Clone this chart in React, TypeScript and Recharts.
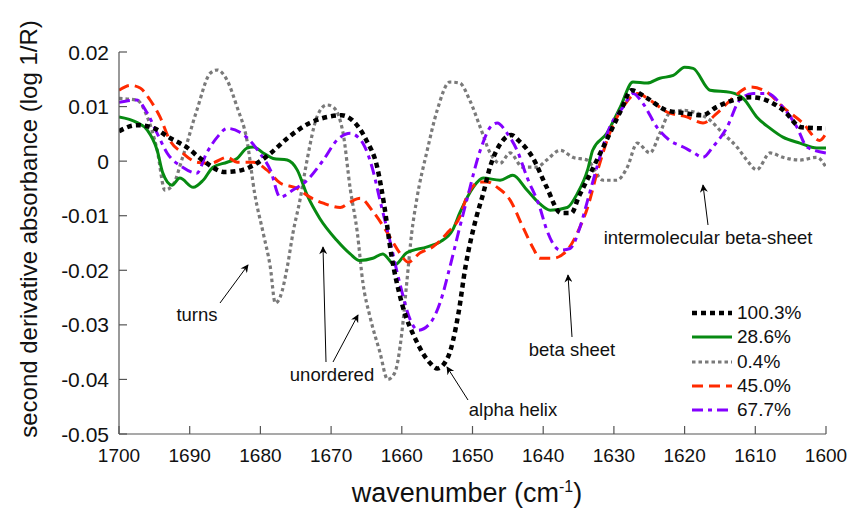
import React from 'react';
import { LineChart, Line, XAxis, YAxis, Legend } from 'recharts';

// wavenumber (cm-1) / second derivative absorbance pairs
const s1003 = [
  [1700, 0.0055], [1697.5, 0.0066], [1695, 0.006], [1693, 0.0044], [1690.5, 0.0026], [1688, 0],
  [1685, -0.002], [1682.5, -0.0016], [1680.5, -0.0004], [1678.5, 0.0015], [1676, 0.0044], [1673, 0.007],
  [1670.5, 0.0081], [1668.5, 0.0084], [1667, 0.0075], [1665, 0.0038], [1663.5, -0.001], [1662.5, -0.008],
  [1661.5, -0.017], [1660, -0.026], [1658, -0.0328], [1656, -0.037], [1655, -0.038], [1653.5, -0.036],
  [1652, -0.028], [1651, -0.0194], [1649.5, -0.0105], [1648.5, -0.006], [1647.5, -0.001], [1646, 0.0033],
  [1644.5, 0.0048], [1643.5, 0.0038], [1641.5, 0.0007], [1639.5, -0.0048], [1637.5, -0.0095], [1636, -0.0095],
  [1635, -0.0066], [1634, -0.004], [1631.5, 0.0026], [1629, 0.0093], [1627.5, 0.013], [1625.5, 0.0117],
  [1622.5, 0.0093], [1620, 0.0088], [1617.5, 0.0084], [1615.5, 0.0099], [1613, 0.0112], [1610.5, 0.0117],
  [1608.5, 0.0112], [1606, 0.0093], [1603.5, 0.0062], [1600, 0.006],
];

const s286 = [
  [1700, 0.0081], [1697.5, 0.0071], [1696, 0.0057], [1694.6, 0.002], [1693.8, -0.0022], [1692.5, -0.0044],
  [1691.4, -0.0031], [1689.5, -0.0048], [1688.1, -0.0035], [1686.7, -0.0011], [1684.7, -0.0002], [1683.3, 0.0005],
  [1681.9, 0.0024], [1681, 0.0026], [1679.6, 0.0015], [1678.2, 0.0005], [1676.2, 0.0002], [1674.8, -0.0016],
  [1673.4, -0.0062], [1671.6, -0.0105], [1669.2, -0.0145], [1667.3, -0.017], [1666, -0.0182], [1664.1, -0.0178],
  [1662.7, -0.017], [1661, -0.019], [1659.3, -0.0168], [1656.4, -0.0157], [1654.6, -0.0148], [1652.8, -0.0126],
  [1651.8, -0.0095], [1649.9, -0.0048], [1648.5, -0.0031], [1646.1, -0.0035], [1644.3, -0.0026], [1642.3, -0.0053],
  [1640.5, -0.0078], [1639, -0.009], [1636.6, -0.0085], [1635.2, -0.006], [1633.7, -0.0015], [1633, 0.002],
  [1631, 0.0051], [1629.1, 0.0099], [1627.3, 0.0145], [1625.3, 0.0143], [1623.5, 0.0152], [1621.6, 0.0157],
  [1620, 0.0172], [1618.8, 0.017], [1616.4, 0.013], [1613.5, 0.0126], [1611.7, 0.0115], [1609.8, 0.0081],
  [1607.9, 0.006], [1606.1, 0.0044], [1603.7, 0.0033], [1601.3, 0.0024], [1600, 0.0024],
];

const s04 = [
  [1700, 0.0115], [1697.5, 0.0112], [1696, 0.0081], [1694.6, 0.002], [1693.5, -0.0053], [1692.4, -0.0044],
  [1691, 0.0007], [1689, 0.0093], [1687.1, 0.0161], [1686.1, 0.0167], [1684.7, 0.0148], [1683.3, 0.0099],
  [1681.9, 0.0038], [1680.8, -0.006], [1679.6, -0.0132], [1678.6, -0.0194], [1677.9, -0.026], [1677.2, -0.0249],
  [1676.2, -0.0194], [1675.4, -0.0132], [1674.4, -0.0071], [1673.4, 0.0002], [1672, 0.0081], [1670.6, 0.0103],
  [1669.7, 0.0099], [1668.3, 0.0051], [1667.3, -0.005], [1666.3, -0.013], [1665.5, -0.0223], [1664.5, -0.0285],
  [1663.1, -0.035], [1662, -0.04], [1661, -0.0388], [1660, -0.0315], [1659.3, -0.0223], [1658.6, -0.0132],
  [1657.9, -0.0071], [1656.4, 0.002], [1655, 0.0093], [1653.2, 0.0145], [1651.8, 0.0143], [1650.4, 0.0112],
  [1648.9, 0.0062], [1647.5, 0.0015], [1646.1, -0.0004], [1644.7, 0.0015], [1642.9, -0.0011], [1640.9, -0.0011],
  [1639.5, 0.0002], [1637.6, 0.002], [1635.8, 0.0007], [1633.8, 0.0002], [1631.5, -0.0035], [1629.6, -0.0035],
  [1628.1, -0.0011], [1626.7, 0.0033], [1624.9, 0.0015], [1623.5, 0.0051], [1622.1, 0.0088], [1620.2, 0.0093],
  [1618.2, 0.0088], [1616.4, 0.0075], [1614.6, 0.0051], [1612.6, 0.0026], [1611.2, 0.0002], [1609.8, -0.0016],
  [1607.9, 0.0015], [1606.1, 0.0007], [1603.7, 0.0002], [1601.3, 0.0007], [1600, -0.0011],
];

const s450 = [
  [1700, 0.013], [1698.4, 0.0139], [1697, 0.0134], [1695.6, 0.0112], [1694.2, 0.0081], [1692.8, 0.0038],
  [1691, 0.0015], [1689, -0.0002], [1687.1, -0.0004], [1684.7, 0.0007], [1683.3, -0.0002], [1681, -0.0002],
  [1679.1, -0.0016], [1677.2, -0.004], [1674.8, -0.005], [1673, -0.0066], [1671.1, -0.0077], [1668.7, -0.0085],
  [1667.3, -0.0075], [1665.9, -0.0068], [1664.1, -0.0092], [1662.1, -0.013], [1660.3, -0.0168], [1659.1, -0.0185],
  [1657.4, -0.0168], [1655.6, -0.0157], [1653.6, -0.0132], [1651.8, -0.0102], [1650.8, -0.0065], [1648.9, -0.0038],
  [1647.9, -0.0038], [1646.5, -0.0048], [1644.7, -0.0071], [1642.9, -0.012], [1641.4, -0.016], [1640.5, -0.0178],
  [1638.6, -0.0178], [1636.6, -0.0163], [1634.8, -0.0121], [1633.7, -0.0084], [1632.4, -0.0022], [1630.6, 0.0051],
  [1628.7, 0.0099], [1626.7, 0.0124], [1624.9, 0.0112], [1622.5, 0.009], [1619.7, 0.0081], [1617.4, 0.007],
  [1615.4, 0.0088], [1613.5, 0.0112], [1610.7, 0.0136], [1608.3, 0.0126], [1606.1, 0.0099], [1603.3, 0.007],
  [1600.9, 0.0038], [1600, 0.0051],
];

const s677 = [
  [1700, 0.0108], [1697.5, 0.0112], [1696, 0.0088], [1694.6, 0.0051], [1693.2, 0.0015], [1691, -0.0011],
  [1689, -0.0022], [1687.6, 0.0015], [1686.1, 0.0044], [1684.7, 0.006], [1682.9, 0.0053], [1681.5, 0.0038],
  [1680.1, 0.0015], [1678.6, -0.0016], [1677.2, -0.0066], [1675.4, -0.0053], [1673.4, -0.0035], [1671.1, 0.0002],
  [1669.2, 0.0038], [1667.3, 0.0051], [1666.2, 0.0044], [1665.5, 0.0033], [1664.1, -0.0016], [1663.1, -0.0071],
  [1661.7, -0.0145], [1660.3, -0.0223], [1658.8, -0.0291], [1657.7, -0.031], [1656, -0.0297], [1654.6, -0.026],
  [1653.2, -0.0194], [1651.8, -0.0121], [1650.8, -0.0071], [1648.9, 0.002], [1647.5, 0.0062], [1646.5, 0.007],
  [1645.1, 0.0051], [1643.7, 0.002], [1642.3, -0.0029], [1640.5, -0.0084], [1639.5, -0.0126], [1637.6, -0.0163],
  [1636.2, -0.016], [1634.8, -0.0121], [1633.7, -0.0071], [1632.4, -0.0011], [1630.6, 0.0062], [1628.7, 0.0099],
  [1627.3, 0.0124], [1625.9, 0.0106], [1623.9, 0.0062], [1622.1, 0.0038], [1620.2, 0.0026], [1618.8, 0.0016],
  [1617.4, 0.0007], [1616, 0.0026], [1614, 0.0062], [1612.2, 0.0112], [1610.3, 0.0124], [1608.3, 0.0124],
  [1606.1, 0.0099], [1604.1, 0.0062], [1602.7, 0.0026], [1600, 0.0015],
];

const xTicks = [1700, 1690, 1680, 1670, 1660, 1650, 1640, 1630, 1620, 1610, 1600];
const yTicks = [-0.05, -0.04, -0.03, -0.02, -0.01, 0, 0.01, 0.02];

const FONT = 'Arial, "Liberation Sans", sans-serif';
const AXIS = '#555';

const legendOrder = [
  { name: '100.3%', data: s1003, color: '#000000', width: 4.5, dash: '5 4' },
  { name: '28.6%', data: s286, color: '#078a12', width: 3, dash: undefined },
  { name: '0.4%', data: s04, color: '#7a7a7a', width: 3.2, dash: '3.5 3' },
  { name: '45.0%', data: s450, color: '#ff2a00', width: 3, dash: '11 6' },
  { name: '67.7%', data: s677, color: '#8400ff', width: 3, dash: '11 5 4 5' },
];
// drawing order: black dotted ends up on top
const drawOrder = [2, 1, 3, 4, 0];

const toRows = (pairs: number[][]) => pairs.map(([w, v]) => ({ w, v }));

const YTick = ({ x, y, payload }: any) => (
  <g>
    <line x1={x} x2={x + 8} y1={y} y2={y} stroke={AXIS} strokeWidth={1.2} />
    <text x={x - 10} y={y} dy="0.36em" textAnchor="end" fontSize={21} fontFamily={FONT} fill="#111">
      {payload.value === 0 ? '0' : payload.value.toFixed(2)}
    </text>
  </g>
);

const XTick = ({ x, y, payload }: any) => (
  <g>
    <line x1={x} x2={x} y1={y} y2={y - 8} stroke={AXIS} strokeWidth={1.2} />
    <text x={x} y={y + 28} textAnchor="middle" fontSize={19} fontFamily={FONT} fill="#111">
      {payload.value}
    </text>
  </g>
);

const LegendBox = () => (
  <div style={{ fontFamily: FONT, fontSize: 19, color: '#111' }}>
    {legendOrder.map((s) => (
      <div key={s.name} style={{ display: 'flex', alignItems: 'center', height: 24.3 }}>
        <svg width={45} height={10}>
          <line x1={0} x2={40} y1={5} y2={5} stroke={s.color} strokeWidth={s.width} strokeDasharray={s.dash} />
        </svg>
        <span>{s.name}</span>
      </div>
    ))}
  </div>
);

const notes = [
  { text: 'turns', x: 197, y: 315, from: [220, 303], to: [248, 265] },
  { text: 'unordered', x: 332, y: 375, from: [326, 362], to: [323, 247] },
  { text: '', x: 0, y: 0, from: [333, 362], to: [358, 315] },
  { text: 'alpha helix', x: 513, y: 410, from: [468, 400], to: [447, 367] },
  { text: 'beta sheet', x: 572, y: 350, from: [572, 337], to: [568, 275] },
  { text: 'intermolecular beta-sheet', x: 708, y: 238, from: [708, 225], to: [703, 185] },
];

export default function App() {
  return (
    <div style={{ position: 'absolute', left: 0, top: 0, width: 849, height: 516, background: '#fff' }}>
      <LineChart width={849} height={516} margin={{ top: 52, right: 23, bottom: 0, left: 0 }}>
        <XAxis
          type="number"
          dataKey="w"
          domain={[1600, 1700]}
          reversed
          ticks={xTicks}
          interval={0}
          allowDataOverflow
          height={82}
          tickSize={0}
          tickMargin={0}
          tickLine={false}
          tick={<XTick />}
          axisLine={{ stroke: AXIS, strokeWidth: 1.2 }}
        />
        <YAxis
          type="number"
          domain={[-0.05, 0.02]}
          ticks={yTicks}
          interval={0}
          allowDataOverflow
          width={119}
          tickSize={0}
          tickMargin={0}
          tickLine={false}
          tick={<YTick />}
          axisLine={{ stroke: AXIS, strokeWidth: 1.2 }}
        />
        <Legend
          layout="vertical"
          align="center"
          verticalAlign="middle"
          content={<LegendBox />}
          wrapperStyle={{ position: 'absolute', left: 692, top: 301, width: 'auto' }}
        />
        {drawOrder.map((i) => {
          const s = legendOrder[i];
          return (
            <Line
              key={s.name}
              name={s.name}
              data={toRows(s.data)}
              dataKey="v"
              type="monotone"
              stroke={s.color}
              strokeWidth={s.width}
              strokeDasharray={s.dash}
              dot={false}
              activeDot={false}
              isAnimationActive={false}
            />
          );
        })}
      </LineChart>

      <svg width={849} height={516} style={{ position: 'absolute', left: 0, top: 0, pointerEvents: 'none' }}>
        <defs>
          <marker id="head" viewBox="0 0 10 10" refX="9" refY="5" markerWidth="11" markerHeight="8" orient="auto" markerUnits="userSpaceOnUse">
            <path d="M0,0 L10,5 L0,10 L3,5 z" fill="#000" />
          </marker>
        </defs>
        {notes.map((n, i) => (
          <g key={i}>
            <line x1={n.from[0]} y1={n.from[1]} x2={n.to[0]} y2={n.to[1]} stroke="#000" strokeWidth={1} markerEnd="url(#head)" />
            {n.text && (
              <text x={n.x} y={n.y} dy="0.35em" textAnchor="middle" fontSize={18.5} fontFamily={FONT} fill="#111">
                {n.text}
              </text>
            )}
          </g>
        ))}
        <text
          transform="translate(29,229) rotate(-90)"
          textAnchor="middle"
          dy="0.35em"
          fontSize={24}
          fontFamily={FONT}
          fill="#111"
        >
          second derivative absorbance (log 1/R)
        </text>
        <text x={467} y={493} dy="0.35em" textAnchor="middle" fontSize={27} fontFamily={FONT} fill="#111">
          wavenumber (cm<tspan fontSize={16} dy="-10">-1</tspan><tspan dy="10">)</tspan>
        </text>
      </svg>
    </div>
  );
}
